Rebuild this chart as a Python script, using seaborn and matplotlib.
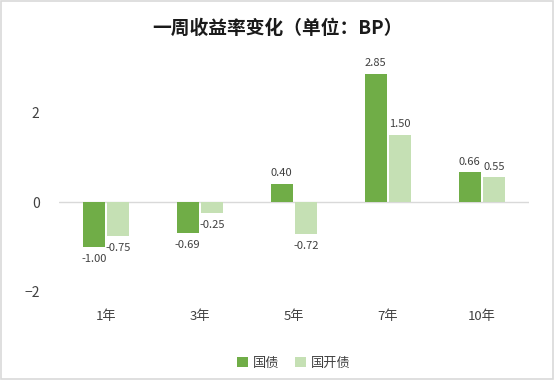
import matplotlib
matplotlib.use("Agg")
import matplotlib.pyplot as plt
import seaborn as sns
import pandas as pd

# data
terms = ["1年", "3年", "5年", "7年", "10年"]
guozhai = [-1.00, -0.69, 0.40, 2.85, 0.66]
guokaizhai = [-0.75, -0.25, -0.72, 1.50, 0.55]
series = ["国债", "国开债"]
colors = ["#70AD47", "#C5E0B4"]

df = pd.DataFrame({
    "term": terms * 2,
    "value": guozhai + guokaizhai,
    "series": [series[0]] * len(terms) + [series[1]] * len(terms),
})

sns.set_style("white")
plt.rcParams["font.family"] = ["Noto Sans CJK SC", "DejaVu Sans"]

fig = plt.figure(figsize=(5.54, 3.8), dpi=100)
ax = fig.add_axes([0.1065, 0.2316, 0.848, 0.592])

sns.barplot(data=df, x="term", y="value", hue="series", palette=colors,
            width=0.52, gap=0.1, saturation=1, linewidth=0, ax=ax, legend=True)

ax.set_ylim(-2, 3)
ax.set_yticks([-2, 0, 2])
ax.set_xlabel("")
ax.set_ylabel("")
for s in ax.spines.values():
    s.set_visible(False)
ax.axhline(0, color="#D9D9D9", lw=1, zorder=0)
ax.tick_params(axis="y", length=0, labelsize=10, colors="#404040", pad=14)
ax.tick_params(axis="x", length=0, labelsize=9.5, colors="#404040", pad=13)

# data labels
for cont in ax.containers:
    for bar in cont:
        h = bar.get_height()
        x = bar.get_x() + bar.get_width() / 2
        if h >= 0:
            ax.annotate(f"{h:.2f}", (x, h), xytext=(0, 4), textcoords="offset points",
                        ha="center", va="bottom", fontsize=8, color="#404040")
        else:
            ax.annotate(f"{h:.2f}", (x, h), xytext=(0, -5), textcoords="offset points",
                        ha="center", va="top", fontsize=8, color="#404040")

ax.legend(loc="upper center", bbox_to_anchor=(0.5, -0.235), ncol=2, frameon=False,
          fontsize=9.5, handlelength=0.8, handleheight=0.8, handletextpad=0.4,
          columnspacing=1.2, labelcolor="#404040")

fig.suptitle("一周收益率变化（单位：BP）", y=0.95, fontsize=13.5, fontweight="bold",
             color="#1a1a1a")

# light border around the figure
fig.patches.append(plt.Rectangle((0.002, 0.002), 0.996, 0.996, transform=fig.transFigure,
                                 fill=False, edgecolor="#D9D9D9", lw=1.2))

fig.savefig("out.png", dpi=100)
